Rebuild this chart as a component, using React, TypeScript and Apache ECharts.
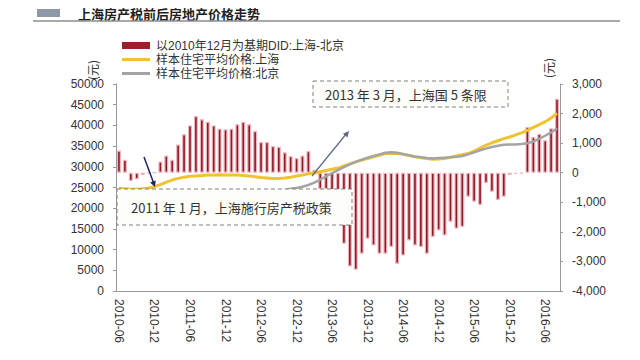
import React, { useEffect, useRef } from "react";
import * as echarts from "echarts";

const months = [
  "2010-06","2010-07","2010-08","2010-09","2010-10","2010-11","2010-12",
  "2011-01","2011-02","2011-03","2011-04","2011-05","2011-06","2011-07","2011-08","2011-09","2011-10","2011-11","2011-12",
  "2012-01","2012-02","2012-03","2012-04","2012-05","2012-06","2012-07","2012-08","2012-09","2012-10","2012-11","2012-12",
  "2013-01","2013-02","2013-03","2013-04","2013-05","2013-06","2013-07","2013-08","2013-09","2013-10","2013-11","2013-12",
  "2014-01","2014-02","2014-03","2014-04","2014-05","2014-06","2014-07","2014-08","2014-09","2014-10","2014-11","2014-12",
  "2015-01","2015-02","2015-03","2015-04","2015-05","2015-06","2015-07","2015-08","2015-09","2015-10","2015-11","2015-12",
  "2016-01","2016-02","2016-03","2016-04","2016-05","2016-06","2016-07","2016-08"
];

const didValues = [
  750, 440, -280, -220, -80, -30, 0,
  380, 580, 440, 955, 1300, 1600, 1920, 1810, 1720, 1600, 1490, 1470,
  1490, 1640, 1720, 1640, 1410, 1035, 1035, 900, 880, 690, 560, 500,
  580, 730, 100, -550, -560, -1100, -1500, -2400, -3170, -3280, -2740, -2230,
  -2460, -2740, -2740, -2510, -3080, -2800, -2290, -2460, -2510, -2740, -2170, -1950,
  -2120, -1660, -1890, -1830, -810, -980, -1090, -350, -640, -920, -810, -80,
  -40, -30, 1550, 1210, 1320, 1100, 1500, 2500
];

const shanghaiPrice = [
  24800, 24700, 24600, 24600, 24700, 24900, 25200,
  25700, 26300, 26800, 27200, 27500, 27700, 27800, 27900, 28000, 28000, 28100, 28000,
  28000, 28000, 27900, 27800, 27600, 27400, 27300, 27200, 27200, 27300, 27500, 27800,
  28000, 28300, 28500, 28800, 29100, 29400, 29700, 30200, 30700, 31200, 31600, 32000,
  32400, 32800, 33200, 33300, 33200, 33000, 32700, 32400, 32200, 32000, 31800, 31900,
  32000, 32300, 32600, 32900, 33200, 33800, 34500, 35200, 35800, 36300, 36800, 37200,
  37700, 38200, 38800, 39500, 40200, 40900, 41800, 42900
];

const beijingPrice = [
  23000, 22900, 22800, 22700, 22800, 23000, 23200,
  23400, 23500, 23400, 23300, 23200, 23100, 23000, 22900, 22800, 22700, 22600, 22600,
  22700, 22800, 22900, 23000, 23100, 23200, 23400, 23700, 24000, 24400, 24700, 24900,
  25200, 25600, 26200, 26900, 27700, 28500, 29200, 29900, 30600, 31200, 31700, 32200,
  32600, 33000, 33400, 33500, 33400, 33100, 32800, 32500, 32300, 32100, 32000, 32100,
  32200, 32300, 32400, 32600, 33000, 33500, 34000, 34400, 34800, 35100, 35300, 35400,
  35400, 35500, 35700, 36100, 36800, 37500, 38300, 39300
];

const seriesNames = [
  "以2010年12月为基期DID:上海-北京",
  "样本住宅平均价格:上海",
  "样本住宅平均价格:北京"
];
const seriesColors = ["#9e1f2c", "#efc232", "#a4a4a4"];
const titleText = "上海房产税前后房地产价格走势";
const unitText = "(元)";
const note2011 = "2011 年 1 月，上海施行房产税政策";
const note2013 = "2013 年 3 月，上海国 5 条限";

const FONT = '"Liberation Sans", Arial, sans-serif';
const CJK = '"Noto Sans CJK SC", sans-serif';
const MIXED = '"Liberation Sans", "Noto Sans CJK SC", sans-serif';

export default function App() {
  const ref = useRef<HTMLDivElement>(null);
  useEffect(() => {
    const chart = echarts.init(ref.current!, null, { renderer: "svg" });
    const legendRows = [45.5, 59.5, 73.5];
    const legendGraphics: any[] = [];
    seriesNames.forEach((name, i) => {
      const y = legendRows[i];
      if (i === 0) {
        legendGraphics.push({ type: "rect", shape: { x: 122, y: y - 3.5, width: 28, height: 7 }, style: { fill: seriesColors[0] }, z: 100 });
      } else {
        legendGraphics.push({ type: "line", shape: { x1: 122, y1: y, x2: 150, y2: y }, style: { stroke: seriesColors[i], lineWidth: 3 }, z: 100 });
      }
      legendGraphics.push({
        type: "text",
        x: 156,
        y,
        style: { text: name, font: `12px ${MIXED}`, fill: "#333", verticalAlign: "middle" },
        z: 100
      });
    });
    chart.setOption({
      animation: false,
      backgroundColor: "#ffffff",
      grid: { left: 116, right: 80, top: 84, bottom: 69, containLabel: false },
      xAxis: {
        type: "category",
        data: months,
        boundaryGap: true,
        axisLine: { onZero: false, lineStyle: { color: "#999" } },
        axisTick: { interval: 5, length: 4, lineStyle: { color: "#999" } },
        axisLabel: { interval: 5, rotate: -90, fontSize: 12, color: "#333", fontFamily: FONT, margin: 8 },
        splitLine: { show: false }
      },
      yAxis: [
        {
          type: "value",
          min: 0,
          max: 50000,
          interval: 5000,
          axisLine: { show: true, lineStyle: { color: "#999" } },
          axisTick: { show: true, length: 3, lineStyle: { color: "#999" } },
          axisLabel: { fontSize: 12, color: "#333", fontFamily: FONT, margin: 12, formatter: (v: number) => String(v) },
          splitLine: { show: false }
        },
        {
          type: "value",
          min: -4000,
          max: 3000,
          interval: 1000,
          position: "right",
          axisLine: { show: true, lineStyle: { color: "#999" } },
          axisTick: { show: true, length: 3, lineStyle: { color: "#999" } },
          axisLabel: {
            fontSize: 12,
            color: "#333",
            fontFamily: FONT,
            margin: 12,
            formatter: (v: number) => v.toLocaleString("en-US")
          },
          splitLine: { show: false }
        }
      ],
      series: [
        {
          name: seriesNames[0],
          type: "bar",
          yAxisIndex: 1,
          data: didValues,
          barWidth: 4,
          itemStyle: { color: "#8c1a27", borderColor: "#f0b3bb", borderWidth: 1.2 }
        },
        {
          name: seriesNames[1],
          type: "line",
          yAxisIndex: 0,
          data: shanghaiPrice,
          symbol: "none",
          lineStyle: { color: seriesColors[1], width: 3 },
          itemStyle: { color: seriesColors[1] },
          z: 3
        },
        {
          name: seriesNames[2],
          type: "line",
          yAxisIndex: 0,
          data: beijingPrice,
          symbol: "none",
          lineStyle: { color: seriesColors[2], width: 2.5 },
          itemStyle: { color: seriesColors[2] },
          z: 4
        }
      ],
      graphic: [
        { type: "rect", shape: { x: 37, y: 9, width: 23, height: 8 }, style: { fill: "#8e98a6" }, z: 100 },
        {
          type: "text",
          x: 78,
          y: 13,
          style: { text: titleText, font: `bold 13px ${CJK}`, fill: "#1f1f1f", verticalAlign: "middle" },
          z: 100
        },
        { type: "line", shape: { x1: 33, y1: 21, x2: 620, y2: 21 }, style: { stroke: "#8c8c8c", lineWidth: 1.5 }, z: 100 },
        ...legendGraphics,
        {
          type: "text",
          x: 92,
          y: 70,
          rotation: Math.PI / 2,
          style: { text: unitText, font: `12px ${CJK}`, fill: "#333", align: "center", verticalAlign: "middle" },
          z: 100
        },
        {
          type: "text",
          x: 548,
          y: 68,
          rotation: Math.PI / 2,
          style: { text: unitText, font: `12px ${CJK}`, fill: "#333", align: "center", verticalAlign: "middle" },
          z: 100
        },
        {
          type: "rect",
          shape: { x: 117, y: 189, width: 235, height: 36 },
          style: { fill: "#fdfdf9", stroke: "#808080", lineWidth: 1, lineDash: [4, 3] },
          z: 100
        },
        {
          type: "text",
          x: 131,
          y: 207,
          style: { text: note2011, font: `13px ${CJK}`, fill: "#333", verticalAlign: "middle" },
          z: 101
        },
        {
          type: "rect",
          shape: { x: 313, y: 81, width: 195, height: 26 },
          style: { fill: "#fdfdf9", stroke: "#808080", lineWidth: 1, lineDash: [4, 3] },
          z: 100
        },
        {
          type: "text",
          x: 325,
          y: 94,
          style: { text: note2013, font: `13px ${CJK}`, fill: "#333", verticalAlign: "middle" },
          z: 101
        },
        { type: "line", shape: { x1: 144, y1: 157, x2: 154, y2: 184 }, style: { stroke: "#1c2466", lineWidth: 1.5 }, z: 102 },
        {
          type: "polygon",
          shape: { points: [[155, 187], [155.7, 180.4], [150.1, 182.4]] },
          style: { fill: "#1c2466" },
          z: 102
        },
        { type: "line", shape: { x1: 312, y1: 176, x2: 347, y2: 133 }, style: { stroke: "#5b6a86", lineWidth: 1.2 }, z: 102 },
        {
          type: "polygon",
          shape: { points: [[349, 131], [347.5, 137.5], [342.9, 133.7]] },
          style: { fill: "#5b6a86" },
          z: 102
        }
      ]
    });
    return () => chart.dispose();
  }, []);
  return <div ref={ref} style={{ position: "absolute", left: 0, top: 0, width: 640, height: 360 }} />;
}
